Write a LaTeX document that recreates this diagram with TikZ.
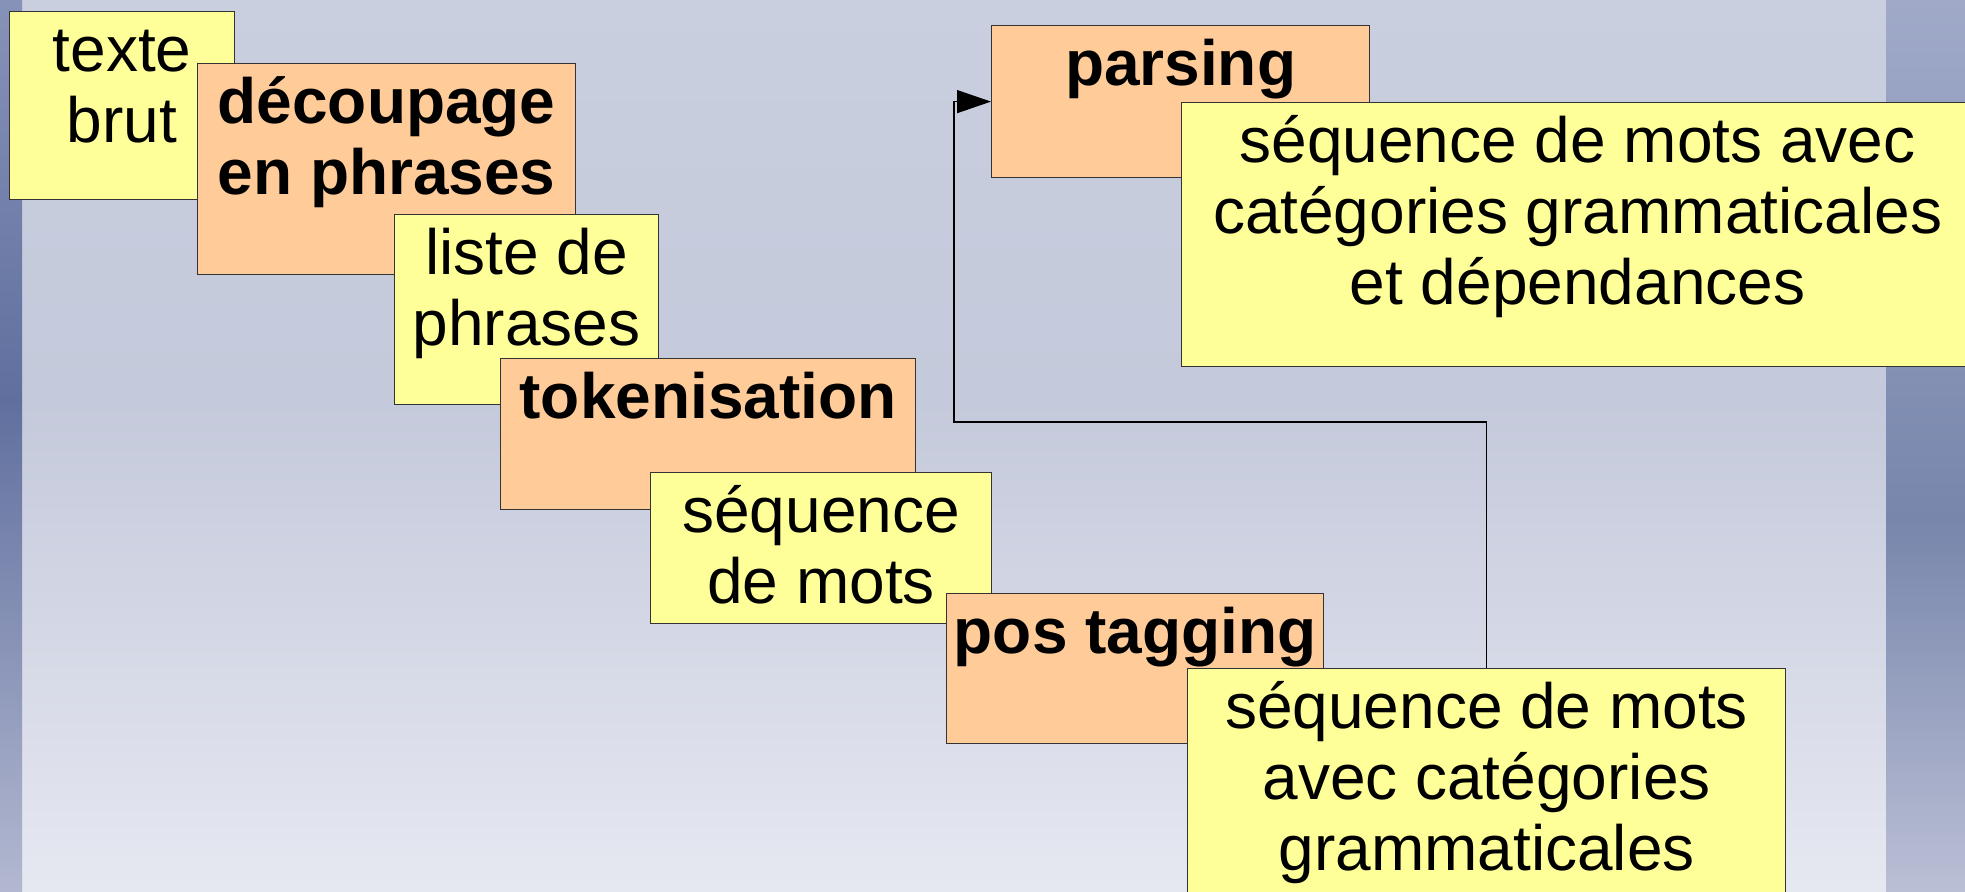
\documentclass[tikz,border=0pt]{standalone}
\usepackage{fontspec}
\setmainfont{Liberation Sans}
\usetikzlibrary{arrows.meta}
\definecolor{boxyellow}{RGB}{255,255,153}
\definecolor{boxorange}{RGB}{255,204,153}
\definecolor{bgtop}{RGB}{202,207,223}
\definecolor{bgmid}{RGB}{196,201,219}
\definecolor{bgbot}{RGB}{230,232,241}
\definecolor{lefttop}{RGB}{135,146,184}
\definecolor{leftmid}{RGB}{96,111,158}
\definecolor{leftbot}{RGB}{178,184,208}
\definecolor{righttop}{RGB}{160,169,200}
\definecolor{rightmid}{RGB}{120,134,172}
\definecolor{rightbot}{RGB}{186,191,213}
\newcommand{\boxfont}{\fontsize{32}{35.5}\selectfont}
\newcommand{\boxtext}[3]{\parbox[c][#2][t]{#1}{\centering\rule{0pt}{30pt}#3}}
\tikzstyle{res}=[rectangle,draw=black!80,fill=boxyellow,line width=0.6pt,inner sep=0pt,anchor=north west,font=\boxfont]
\tikzstyle{proc}=[res,fill=boxorange,font=\boxfont\bfseries]
\tikzstyle{arr}=[-{Triangle[length=17pt,width=11.5pt]},draw=black,line width=0.6pt]

\begin{document}
\begin{tikzpicture}[x=0.5pt,y=-0.5pt]
      \useasboundingbox (0,0) rectangle (1965,891);
      \clip (0,0) rectangle (1965,891);
      % background
      \shade[top color=bgtop,bottom color=bgmid] (0,0) rectangle (1965,400);
      \shade[top color=bgmid,bottom color=bgbot] (0,400) rectangle (1965,891);
      \shade[top color=lefttop,bottom color=leftmid] (0,0) rectangle (22,400);
      \shade[top color=leftmid,bottom color=leftbot] (0,400) rectangle (22,891);
      \shade[top color=righttop,bottom color=rightmid] (1886,0) rectangle (1965,520);
      \shade[top color=rightmid,bottom color=rightbot] (1886,520) rectangle (1965,891);
      % chain of steps
      \node[res] (brut) at (9,11) {\boxtext{112.5pt}{94pt}{texte\\brut}};
      \node[proc] (decoup) at (197,63) {\boxtext{189pt}{105.5pt}{découpage\\en phrases}};
      \node[res] (phrases) at (394,214) {\boxtext{132pt}{95pt}{liste de\\phrases}};
      \node[proc] (token) at (500,358) {\boxtext{207.5pt}{75.5pt}{tokenisation}};
      \node[res] (mots) at (650,472) {\boxtext{170.5pt}{75.5pt}{séquence\\de mots}};
      \node[proc] (tagging) at (946,593) {\boxtext{188.5pt}{75pt}{pos tagging}};
      \node[res] (motscat) at (1187,668) {\boxtext{299pt}{120pt}{séquence de mots\\avec catégories\\grammaticales}};
      \node[proc] (parsing) at (991,25) {\boxtext{189pt}{76pt}{parsing}};
      \node[res] (motsdep) at (1181,102) {\boxtext{396pt}{132pt}{séquence de mots avec\\catégories grammaticales\\et dépendances}};
      % loop back to parsing
      \coordinate (turn) at (954,422);
      \draw[arr] (motscat.north) |- (turn) |- (parsing.west);
  \end{tikzpicture}
\end{document}
